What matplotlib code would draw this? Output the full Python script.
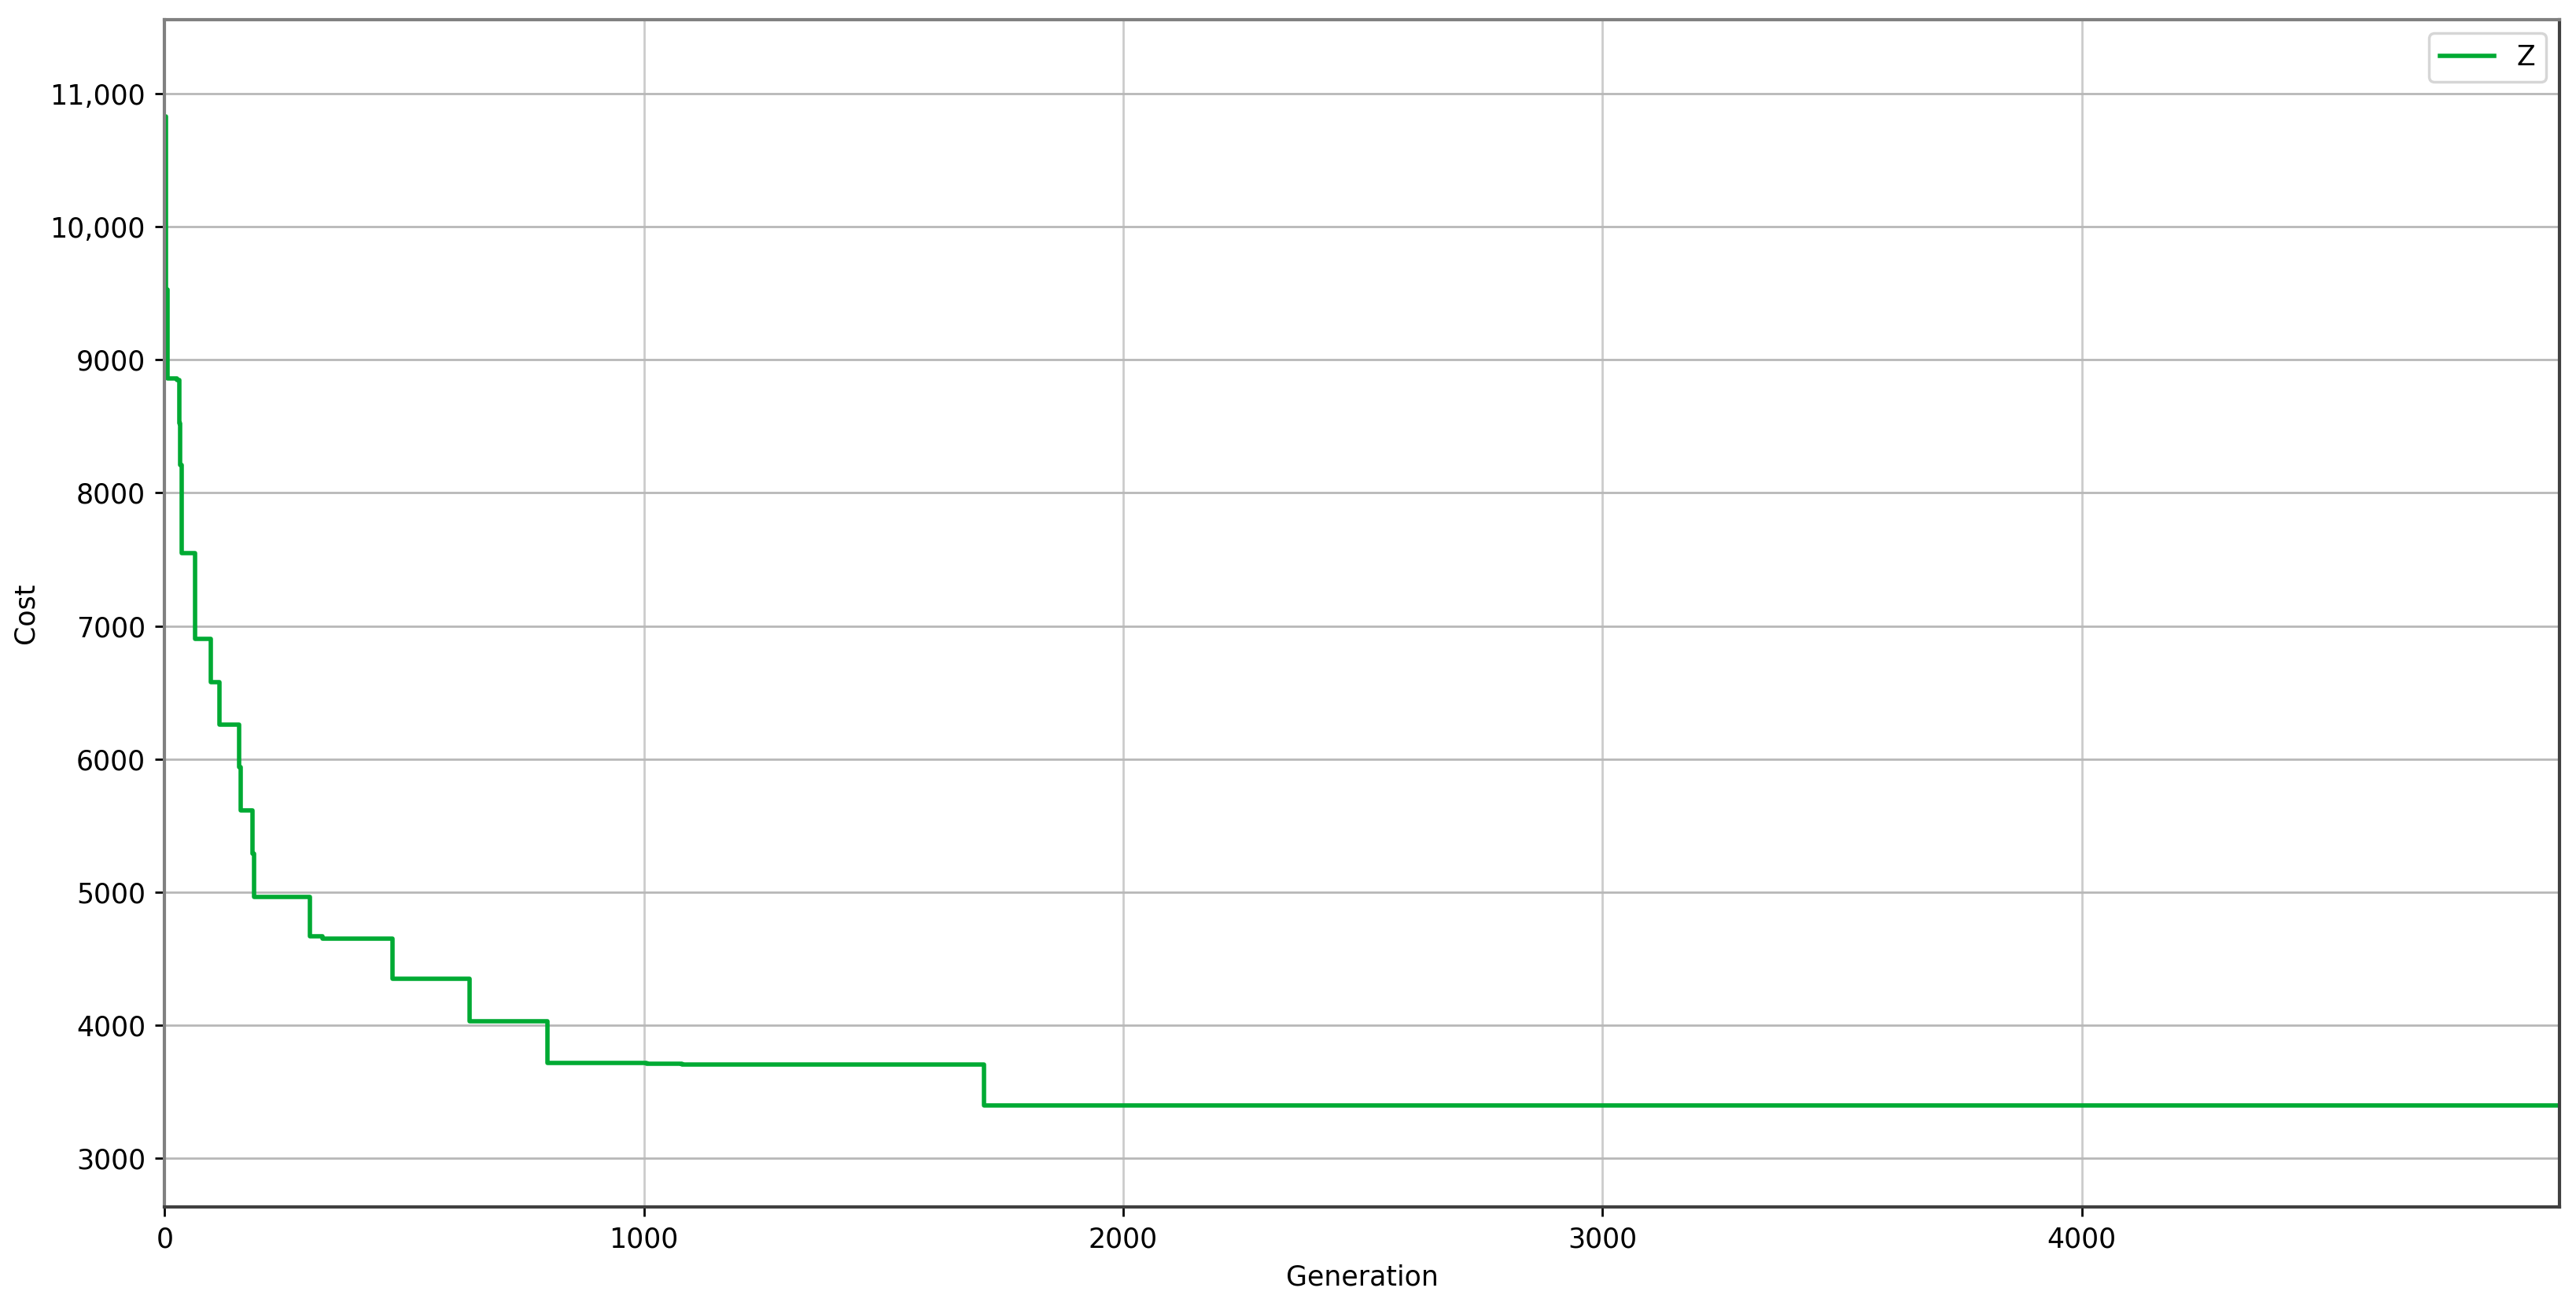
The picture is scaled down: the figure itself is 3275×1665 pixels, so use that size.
import matplotlib
matplotlib.use("Agg")
import matplotlib.pyplot as plt
from matplotlib.ticker import FuncFormatter

# generation at which the best cost changed, and the cost from then on
generations = [0, 3, 6, 26, 30, 33, 36, 63, 96, 115, 155, 158, 183, 186,
               303, 330, 476, 637, 798, 1005, 1080, 1710, 4997]
costs = [10830, 9530, 8860, 8850, 8525, 8210, 7550, 6900, 6575, 6260, 5940,
         5615, 5290, 4962, 4666, 4650, 4347, 4030, 3717, 3710, 3703, 3396, 3396]

series_label = "Z"


def cost_fmt(x, pos):
    # only the five-digit values get a thousands separator
    if x >= 10000:
        return f"{x:,.0f}"
    return f"{x:.0f}"


fig = plt.figure(figsize=(13.1, 6.66), dpi=250)
ax = fig.add_axes([0.0639, 0.0787, 0.9297, 0.9063])

ax.plot(generations, costs, drawstyle="steps-post", color="#00aa33",
        linewidth=1.6, label=series_label)

ax.set_xlim(0, 4997)
ax.set_ylim(2634, 11556)
ax.set_xticks([0, 1000, 2000, 3000, 4000])
ax.set_yticks(range(3000, 11001, 1000))
ax.yaxis.set_major_formatter(FuncFormatter(cost_fmt))

ax.grid(True, axis="y", color="#b8b8b8", linewidth=0.8)
ax.grid(True, axis="x", color="#cccccc", linewidth=0.8)
ax.set_axisbelow(True)

for side in ["left", "top"]:
    ax.spines[side].set_color("#808080")
    ax.spines[side].set_linewidth(1.2)
for side in ["right", "bottom"]:
    ax.spines[side].set_color("#404040")
    ax.spines[side].set_linewidth(1.2)

ax.tick_params(labelsize=10)
ax.set_xlabel("Generation", fontsize=10)
ax.set_ylabel("Cost", fontsize=10)
ax.legend(loc="upper right", fontsize=10)

fig.savefig("out.png", dpi=250)
